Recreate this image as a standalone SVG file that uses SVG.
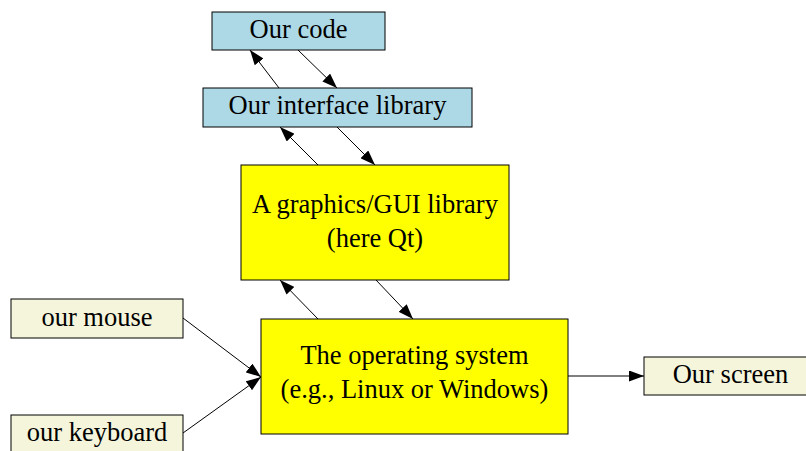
<svg xmlns="http://www.w3.org/2000/svg" width="806" height="451" viewBox="0 0 806 451">
<style>
.n rect{stroke:#000;stroke-width:1}
.blue rect{fill:#add8e6}
.yel rect{fill:#ffff00}
.beige rect{fill:#f5f5dc}
text{font-family:"Liberation Serif","Times New Roman",serif;font-size:26.5px;text-anchor:middle;fill:#000}
.e line{stroke:#000;stroke-width:1;marker-end:url(#ah)}
</style>
<defs>
<marker id="ah" viewBox="0 0 15 11" refX="15" refY="5.5" markerWidth="15" markerHeight="11" markerUnits="userSpaceOnUse" orient="auto">
<path d="M0,0 L15,5.5 L0,11 Z" fill="#000"/>
</marker>
</defs>
<rect width="806" height="451" fill="#fff"/>
<g id="edges" class="e">
<line x1="279" y1="88" x2="250" y2="50"/>
<line x1="298" y1="50" x2="337" y2="88"/>
<line x1="318" y1="165" x2="280" y2="127"/>
<line x1="337" y1="127" x2="375" y2="165"/>
<line x1="318" y1="319" x2="280" y2="280"/>
<line x1="376" y1="280" x2="413" y2="319"/>
<line x1="183" y1="318" x2="261" y2="377"/>
<line x1="183" y1="433" x2="261" y2="377"/>
<line x1="568" y1="376" x2="644" y2="376"/>
</g>
<g id="code" class="n blue"><rect x="212" y="12" width="173" height="38"/><text x="298.5" y="38">Our code</text></g>
<g id="iface" class="n blue"><rect x="203" y="88" width="269" height="39"/><text x="337.5" y="114">Our interface library</text></g>
<g id="gui" class="n yel"><rect x="241" y="165" width="268" height="115"/><text x="375" y="213">A graphics/GUI library</text><text x="375" y="247">(here Qt)</text></g>
<g id="os" class="n yel"><rect x="261" y="319" width="307" height="115"/><text x="414.5" y="364">The operating system</text><text x="414.5" y="398">(e.g., Linux or Windows)</text></g>
<g id="mouse" class="n beige"><rect x="11" y="299" width="172" height="39"/><text x="97" y="326">our mouse</text></g>
<g id="keyboard" class="n beige"><rect x="11" y="415" width="172" height="39"/><text x="97" y="441">our keyboard</text></g>
<g id="screen" class="n beige"><rect x="644" y="357" width="174" height="38"/><text x="730.5" y="383">Our screen</text></g>
</svg>
